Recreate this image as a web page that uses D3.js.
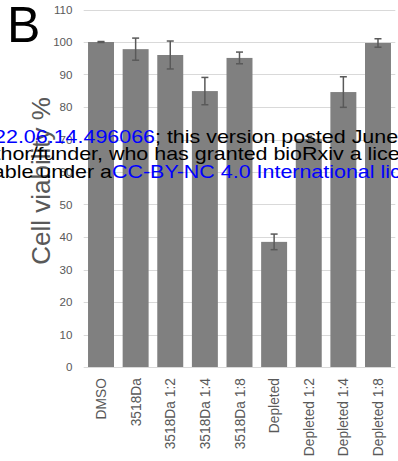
<!DOCTYPE html>
<html>
<head>
<meta charset="utf-8">
<script src="https://cdn.jsdelivr.net/npm/d3@7"></script>
<style>
  html, body { margin: 0; padding: 0; background: #fff; }
  svg { display: block; font-family: "Liberation Sans", Arial, sans-serif; }
</style>
</head>
<body>
<svg id="chart" width="398" height="461"></svg>
<script>
// Cell viability per treatment (mean and error bar half-width, %)
const categories = ["DMSO", "3518Da", "3518Da 1:2", "3518Da 1:4", "3518Da 1:8",
                    "Depleted", "Depleted 1:2", "Depleted 1:4", "Depleted 1:8"];
const viability = [100, 97.8, 96.0, 84.9, 95.1, 38.5, 70.2, 84.6, 99.7];
const errors    = [0.15, 3.4, 4.3, 4.2, 1.8, 2.4, 0.8, 4.7, 1.3];
const yTicks    = [0, 10, 20, 30, 40, 50, 60, 70, 80, 90, 100, 110];

const svg = d3.select("#chart");
const plot = { left: 83.7, right: 395.3, top: 9.5, bottom: 367 };

const x = d3.scaleBand()
  .domain(categories)
  .range([plot.left, plot.right])
  .paddingInner(0.25)
  .paddingOuter(0.125);

const y = d3.scaleLinear()
  .domain([0, 110])
  .range([plot.bottom, plot.top]);

// Horizontal gridlines
svg.append("g")
  .selectAll("line")
  .data(yTicks)
  .join("line")
  .attr("x1", plot.left)
  .attr("x2", plot.right)
  .attr("y1", d => Math.round(y(d)) + 0.5)
  .attr("y2", d => Math.round(y(d)) + 0.5)
  .attr("stroke", "#d9d9d9")
  .attr("stroke-width", 1);

// Y tick labels
svg.append("g")
  .selectAll("text")
  .data(yTicks)
  .join("text")
  .attr("x", 72.5)
  .attr("y", d => y(d) + 4.2)
  .attr("text-anchor", "end")
  .attr("font-size", 11.6)
  .attr("fill", "#595959")
  .text(d => d);

// Bars
svg.append("g")
  .selectAll("rect")
  .data(categories)
  .join("rect")
  .attr("x", d => x(d))
  .attr("width", x.bandwidth())
  .attr("y", (d, i) => y(viability[i]))
  .attr("height", (d, i) => y(0) - y(viability[i]))
  .attr("fill", "#808080");

// Error bars
const eb = svg.append("g")
  .attr("stroke", "#595959")
  .attr("stroke-width", 1.5);
categories.forEach((c, i) => {
  const cx = x(c) + x.bandwidth() / 2;
  const hi = y(viability[i] + errors[i]);
  const lo = y(viability[i] - errors[i]);
  eb.append("line").attr("x1", cx).attr("x2", cx).attr("y1", hi).attr("y2", lo);
  eb.append("line").attr("x1", cx - 3.5).attr("x2", cx + 3.5).attr("y1", hi).attr("y2", hi);
  eb.append("line").attr("x1", cx - 3.5).attr("x2", cx + 3.5).attr("y1", lo).attr("y2", lo);
});

// Category labels, rotated
svg.append("g")
  .selectAll("text")
  .data(categories)
  .join("text")
  .attr("transform", d => `translate(${x(d) + x.bandwidth() / 2 + 5},378) rotate(-90)`)
  .attr("text-anchor", "end")
  .attr("font-size", 13.8)
  .attr("fill", "#595959")
  .text(d => d);

// Y axis title
svg.append("text")
  .attr("transform", "translate(50,181) rotate(-90)")
  .attr("text-anchor", "middle")
  .attr("font-size", 26)
  .attr("fill", "#595959")
  .text("Cell viability %");

// Panel letter
svg.append("text")
  .attr("x", 7)
  .attr("y", 42)
  .attr("font-size", 50)
  .attr("fill", "#000")
  .text("B");

// Preprint notice lines drawn across the figure (horizontally stretched)
const sx = 1.16;
const notice = svg.append("g")
  .attr("font-size", 18.5)
  .attr("transform", `scale(${sx},1)`);
notice.append("text")
  .attr("x", 155 / sx).attr("y", 143)
  .attr("text-anchor", "end").attr("fill", "#0000ff")
  .text("https://doi.org/10.1101/2022.06.14.496066");
notice.append("text")
  .attr("x", 155 / sx).attr("y", 143)
  .attr("fill", "#000")
  .text("; this version posted June 15, 2022. The copyright holder for this preprint");
notice.append("text")
  .attr("x", 0.5 / sx).attr("y", 160.5)
  .attr("text-anchor", "end").attr("fill", "#000")
  .text("(which was not certified by peer review) is the aut");
notice.append("text")
  .attr("x", 0.5 / sx).attr("y", 160.5)
  .attr("fill", "#000")
  .text("hor/funder, who has granted bioRxiv a license to display the preprint in perpetuity.");
notice.append("text")
  .attr("x", 112 / sx).attr("y", 178)
  .attr("text-anchor", "end").attr("fill", "#000")
  .text("available under a");
notice.append("text")
  .attr("x", 112 / sx).attr("y", 178)
  .attr("fill", "#0000ff")
  .text("CC-BY-NC 4.0 International license.");
</script>
</body>
</html>
